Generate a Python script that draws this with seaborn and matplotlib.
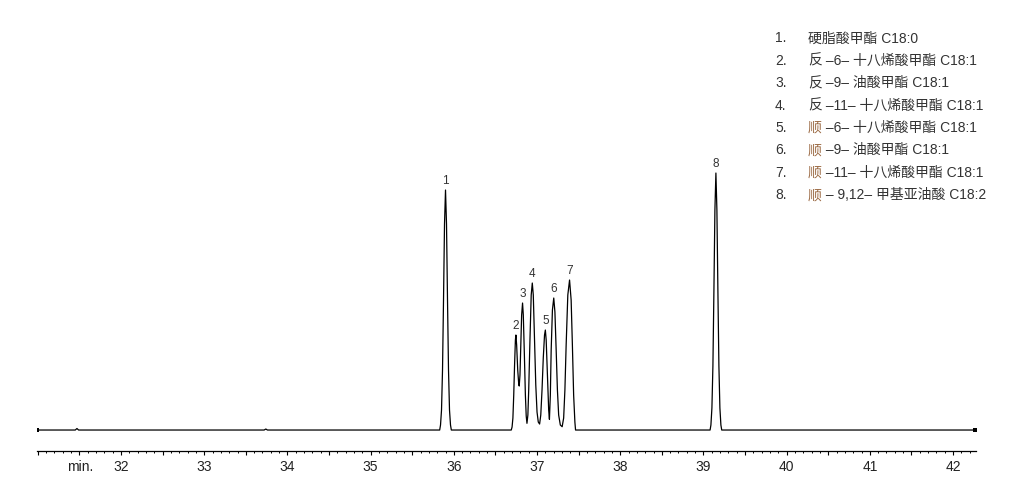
import matplotlib
matplotlib.use("Agg")
import matplotlib.pyplot as plt
from matplotlib.ticker import MultipleLocator, FuncFormatter
import pandas as pd
import seaborn as sns

# 色谱图数据 (保留时间 min, 信号 - 基线以上的相对高度)
trace_time = [
    30.99, 31.45, 31.47, 31.49, 33.72, 33.74, 33.76,
    # 峰 1
    35.83, 35.84, 35.852, 35.864, 35.876, 35.888, 35.90, 35.912, 35.924, 35.936, 35.948, 35.96, 35.97,
    # 峰 2 - 7
    36.69, 36.70, 36.71, 36.72, 36.73, 36.74, 36.746, 36.755, 36.768, 36.78, 36.786,
    36.795, 36.805, 36.815, 36.826, 36.835, 36.848, 36.86, 36.87, 36.879,
    36.89, 36.90, 36.915, 36.93, 36.943, 36.955, 36.97, 36.985, 37.00, 37.015, 37.031,
    37.045, 37.06, 37.075, 37.09, 37.10, 37.11, 37.125, 37.14, 37.149,
    37.16, 37.17, 37.185, 37.201, 37.215, 37.23, 37.245, 37.26, 37.28, 37.302,
    37.32, 37.335, 37.35, 37.37, 37.391, 37.41, 37.425, 37.44, 37.455, 37.463,
    # 峰 8
    39.08, 39.09, 39.102, 39.114, 39.126, 39.138, 39.15, 39.162, 39.174, 39.186, 39.198, 39.21, 39.22,
    42.27,
]
trace_signal = [
    0, 0, 1.5, 0, 0, 1.0, 0,
    0, 5, 20, 60, 130, 206, 240, 206, 130, 60, 20, 5, 0,
    0, 3, 12, 35, 65, 90, 95, 85, 60, 46, 44,
    55, 85, 115, 127, 115, 75, 35, 14, 6.7,
    15, 40, 90, 135, 147, 135, 90, 45, 18, 8, 6,
    15, 40, 72, 95, 100, 90, 55, 20, 10.7,
    35, 80, 120, 132, 118, 80, 40, 15, 5, 3.3,
    12, 40, 85, 135, 150, 130, 85, 35, 8, 0,
    0, 5, 22, 64, 139, 220, 257, 220, 139, 64, 22, 5, 0,
    0,
]

# 峰标号
peak_labels = ["1", "2", "3", "4", "5", "6", "7", "8"]
peak_times = [35.90, 36.746, 36.826, 36.943, 37.10, 37.201, 37.391, 39.15]
peak_heights = [240, 95, 127, 147, 100, 132, 150, 257]

# 图例文字
legend_prefix = ["硬", "反", "反", "反", "顺", "顺", "顺", "顺"]
legend_rest = [
    "脂酸甲酯 C18:0",
    " –6– 十八烯酸甲酯 C18:1",
    " –9– 油酸甲酯 C18:1",
    " –11– 十八烯酸甲酯 C18:1",
    " –6– 十八烯酸甲酯 C18:1",
    " –9– 油酸甲酯 C18:1",
    " –11– 十八烯酸甲酯 C18:1",
    " – 9,12– 甲基亚油酸 C18:2",
]

sns.set_theme(style="white")
plt.rcParams["font.family"] = ["Liberation Sans", "Noto Sans CJK SC", "DejaVu Sans"]

fig = plt.figure(figsize=(10.28, 4.94), dpi=100)
ax = fig.add_axes([0.036, 0.087, 0.9134, 0.6093])

df = pd.DataFrame({"time": trace_time, "signal": trace_signal})
sns.lineplot(data=df, x="time", y="signal", ax=ax, color="black",
             linewidth=0.9, estimator=None)
# 两端的小方点
ends = df.iloc[[0, -1]]
sns.scatterplot(data=ends, x="time", y="signal", ax=ax, color="black",
                marker="s", s=6, linewidth=0)

for lab, t, h in zip(peak_labels, peak_times, peak_heights):
    ax.annotate(lab, (t, h), xytext=(0, 2.5), textcoords="offset points",
                ha="center", va="bottom", fontsize=8.5, color="#333333")

ax.set_xlim(30.99, 42.276)
ax.set_ylim(-21, 280)
ax.set_xlabel("")
ax.set_ylabel("")
ax.set_yticks([])
for side in ["top", "left", "right"]:
    ax.spines[side].set_visible(False)
ax.spines["bottom"].set_color("black")
ax.spines["bottom"].set_linewidth(0.9)

ax.xaxis.set_major_locator(MultipleLocator(0.5))
ax.xaxis.set_minor_locator(MultipleLocator(0.1))
ax.xaxis.set_major_formatter(
    FuncFormatter(lambda v, p: f"{v:.0f}" if abs(v - round(v)) < 1e-6 and v > 31.5 else ""))
ax.tick_params(axis="x", which="major", direction="out", length=3.2, width=0.8,
               color="black", labelsize=10, labelcolor="#222222", pad=3, bottom=True)
ax.tick_params(axis="x", which="minor", direction="out", length=1.6, width=0.7,
               color="black", bottom=True)
ax.annotate("min.", (31.507, 0), xycoords=("data", "axes fraction"),
            xytext=(0, -6.2), textcoords="offset points",
            ha="center", va="top", fontsize=10, color="#222222")

# 图例 (右上角)
row_y = [38.3 + 22.4 * i for i in range(8)]
for i, (pre, rest) in enumerate(zip(legend_prefix, legend_rest)):
    y = 1 - row_y[i] / 494
    fig.text(775 / 1028, y, f"{i + 1}.", ha="left", va="center",
             fontsize=10, color="#333333")
    if i == 0:
        fig.text(808 / 1028, y, pre + rest, ha="left", va="center",
                 fontsize=10, color="#333333")
    else:
        col = "#9c6b45" if pre == "顺" else "#333333"
        fig.text(808 / 1028, y, pre, ha="left", va="center",
                 fontsize=10, color=col)
        fig.text(822 / 1028, y, rest, ha="left", va="center",
                 fontsize=10, color="#333333")

fig.savefig("out.png", dpi=100)
